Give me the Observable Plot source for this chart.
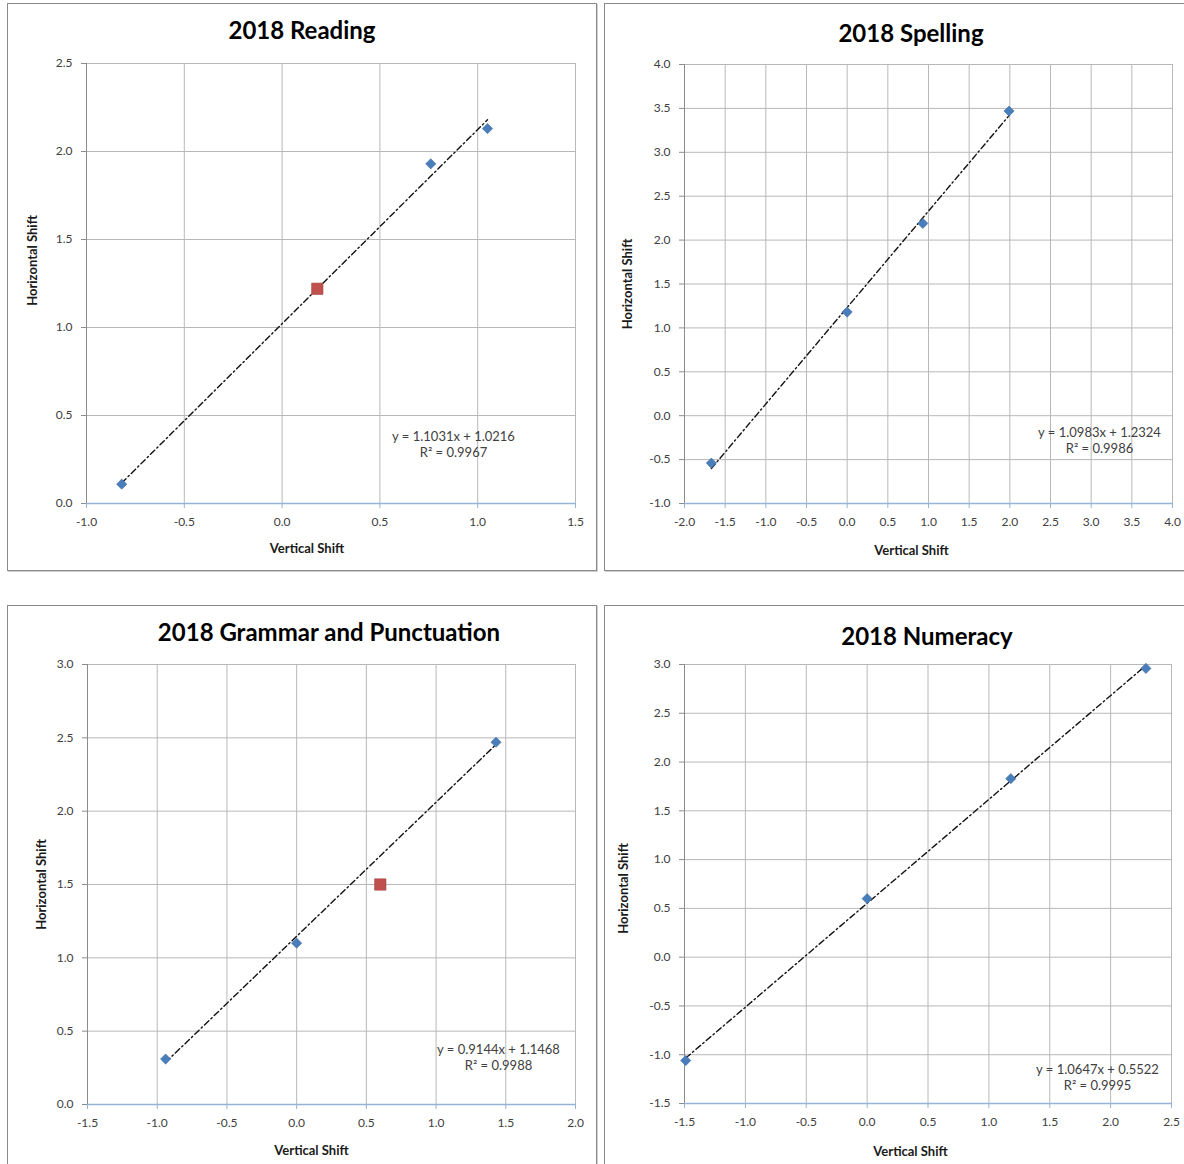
<!DOCTYPE html>
<html><head><meta charset="utf-8">
<script src="https://cdn.jsdelivr.net/npm/d3@7"></script>
<script src="https://cdn.jsdelivr.net/npm/@observablehq/plot@0.6"></script>
<style>
html,body{margin:0;padding:0;overflow:hidden;background:#fff;width:1184px;height:1164px;position:relative;}
.panel{position:absolute;border:1px solid #8a8a8a;box-shadow:1px 1px 0 #cfcfcf;background:#fff;overflow:hidden;box-sizing:border-box;}
.panel svg{position:absolute;left:0;top:0;overflow:visible;}
.title{position:absolute;font-family:Lato,sans-serif;font-weight:bold;font-size:24px;line-height:24px;color:#000;white-space:nowrap;transform:translateX(-50%);}
</style></head><body>
<script>
// ---- Data ----
const readingTitle = "2018 Reading";
const readingBlueX = [-0.82, 0.76, 1.05];
const readingBlueY = [0.11, 1.93, 2.13];
const readingRedX = [0.18];
const readingRedY = [1.22];
const readingXTicks = [-1.0, -0.5, 0.0, 0.5, 1.0, 1.5];
const readingYTicks = [0.0, 0.5, 1.0, 1.5, 2.0, 2.5];
const readingFit = ["1.1031", "1.0216", "0.9967"];

const spellingTitle = "2018 Spelling";
const spellingBlueX = [-1.67, 0.0, 0.93, 1.99];
const spellingBlueY = [-0.54, 1.18, 2.19, 3.47];
const spellingRedX = [];
const spellingRedY = [];
const spellingXTicks = [-2.0, -1.5, -1.0, -0.5, 0.0, 0.5, 1.0, 1.5, 2.0, 2.5, 3.0, 3.5, 4.0];
const spellingYTicks = [-1.0, -0.5, 0.0, 0.5, 1.0, 1.5, 2.0, 2.5, 3.0, 3.5, 4.0];
const spellingFit = ["1.0983", "1.2324", "0.9986"];

const grammarTitle = "2018 Grammar and Punctuation";
const grammarBlueX = [-0.94, 0.0, 1.43];
const grammarBlueY = [0.31, 1.10, 2.47];
const grammarRedX = [0.60];
const grammarRedY = [1.50];
const grammarXTicks = [-1.5, -1.0, -0.5, 0.0, 0.5, 1.0, 1.5, 2.0];
const grammarYTicks = [0.0, 0.5, 1.0, 1.5, 2.0, 2.5, 3.0];
const grammarFit = ["0.9144", "1.1468", "0.9988"];

const numeracyTitle = "2018 Numeracy";
const numeracyBlueX = [-1.49, 0.0, 1.18, 2.29];
const numeracyBlueY = [-1.06, 0.60, 1.83, 2.96];
const numeracyRedX = [];
const numeracyRedY = [];
const numeracyXTicks = [-1.5, -1.0, -0.5, 0.0, 0.5, 1.0, 1.5, 2.0, 2.5];
const numeracyYTicks = [-1.5, -1.0, -0.5, 0.0, 0.5, 1.0, 1.5, 2.0, 2.5, 3.0];
const numeracyFit = ["1.0647", "0.5522", "0.9995"];

const xLabel = "Vertical Shift";
const yLabel = "Horizontal Shift";

// ---- Layout ----
const panels = [
  {title: readingTitle, blueX: readingBlueX, blueY: readingBlueY, redX: readingRedX, redY: readingRedY,
   xTicks: readingXTicks, yTicks: readingYTicks, fit: readingFit,
   box: [7, 3, 590, 568], m: [59, 21, 67, 78], titlePos: [302, 17.5],
   eq: [-122, -60], xl: [-24, 45.5], yl: [-53.5, -23]},
  {title: spellingTitle, blueX: spellingBlueX, blueY: spellingBlueY, redX: spellingRedX, redY: spellingRedY,
   xTicks: spellingXTicks, yTicks: spellingYTicks, fit: spellingFit,
   box: [604, 3, 584, 568], m: [60, 15, 67, 79], titlePos: [911, 20.7],
   eq: [-73, -64], xl: [-17, 47], yl: [-57, 0]},
  {title: grammarTitle, blueX: grammarBlueX, blueY: grammarBlueY, redX: grammarRedX, redY: grammarRedY,
   xTicks: grammarXTicks, yTicks: grammarYTicks, fit: grammarFit,
   box: [7, 605, 590, 566], m: [58, 21, 66, 79], titlePos: [329, 619.7],
   eq: [-77, -48], xl: [-20, 46], yl: [-45.5, 0]},
  {title: numeracyTitle, blueX: numeracyBlueX, blueY: numeracyBlueY, redX: numeracyRedX, redY: numeracyRedY,
   xTicks: numeracyXTicks, yTicks: numeracyYTicks, fit: numeracyFit,
   box: [604, 605, 584, 566], m: [58, 16, 67, 79], titlePos: [927, 623.7],
   eq: [-74, -27], xl: [-17.5, 48.5], yl: [-61, 4.5]}
];

const fmt = d => (+d).toFixed(1);

for (const cfg of panels) {
  const [left, top, w, h] = cfg.box;
  const div = document.createElement("div");
  div.className = "panel";
  Object.assign(div.style, {left: left + "px", top: top + "px", width: w + "px", height: h + "px"});
  document.body.appendChild(div);

  const blue = cfg.blueX.map((x, i) => ({x, y: cfg.blueY[i]}));
  const red = cfg.redX.map((x, i) => ({x, y: cfg.redY[i]}));
  const slope = +cfg.fit[0], intercept = +cfg.fit[1];
  const trend = d3.extent(cfg.blueX).map(x => ({x, y: slope * x + intercept}));
  const eqText = `y = ${cfg.fit[0]}x + ${cfg.fit[1]}\nR² = ${cfg.fit[2]}`;

  const plot = Plot.plot({
    width: w - 2, height: h - 2,
    marginTop: cfg.m[0], marginRight: cfg.m[1], marginBottom: cfg.m[2], marginLeft: cfg.m[3],
    style: {fontFamily: "Lato, sans-serif", fontSize: "12px", background: "transparent", color: "#404040"},
    x: {domain: [cfg.xTicks[0], cfg.xTicks[cfg.xTicks.length - 1]]},
    y: {domain: [cfg.yTicks[0], cfg.yTicks[cfg.yTicks.length - 1]]},
    marks: [
      Plot.gridX(cfg.xTicks, {stroke: "#b8b8b8", strokeOpacity: 1}),
      Plot.gridY(cfg.yTicks, {stroke: "#b8b8b8", strokeOpacity: 1}),
      Plot.ruleX([cfg.xTicks[0]], {stroke: "#8c8c8c"}),
      Plot.axisX(cfg.xTicks, {tickSize: 5, tickPadding: 9, tickFormat: fmt, stroke: "#95b3d7", fill: "#404040", fontSize: 12, label: null}),
      Plot.axisY(cfg.yTicks, {tickSize: 5, tickPadding: 9, tickFormat: fmt, stroke: "#8c8c8c", fill: "#404040", fontSize: 12, label: null}),
      Plot.ruleY([cfg.yTicks[0]], {stroke: "#95b3d7", strokeWidth: 1.3}),
      Plot.line(trend, {x: "x", y: "y", stroke: "#111", strokeWidth: 1.4, strokeDasharray: "6,3,1.5,3"}),
      Plot.dot(blue, {x: "x", y: "y", symbol: "diamond2", r: 4.6, fill: "#4a7ebb", stroke: "#3d6ca6", strokeWidth: 0.6}),
      Plot.dot(red, {x: "x", y: "y", symbol: "square", r: 6.4, fill: "#c0504d", stroke: "#a03f3c", strokeWidth: 0.6}),
      Plot.text([eqText], {text: d => d, frameAnchor: "bottom-right", dx: cfg.eq[0], dy: cfg.eq[1], textAnchor: "middle", lineAnchor: "middle", lineHeight: 1.27, fontSize: 13, fill: "#404040"}),
      Plot.text([xLabel], {text: d => d, frameAnchor: "bottom", dx: cfg.xl[0], dy: cfg.xl[1], textAnchor: "middle", lineAnchor: "middle", fontWeight: "bold", fontSize: 13, fill: "#1a1a1a"}),
      Plot.text([yLabel], {text: d => d, frameAnchor: "left", dx: cfg.yl[0], dy: cfg.yl[1], rotate: -90, textAnchor: "middle", lineAnchor: "middle", fontWeight: "bold", fontSize: 13, fill: "#1a1a1a"})
    ]
  });
  div.appendChild(plot);

  const t = document.createElement("div");
  t.className = "title";
  t.textContent = cfg.title;
  t.style.left = cfg.titlePos[0] + "px";
  t.style.top = cfg.titlePos[1] + "px";
  document.body.appendChild(t);
}
</script>
</body></html>
